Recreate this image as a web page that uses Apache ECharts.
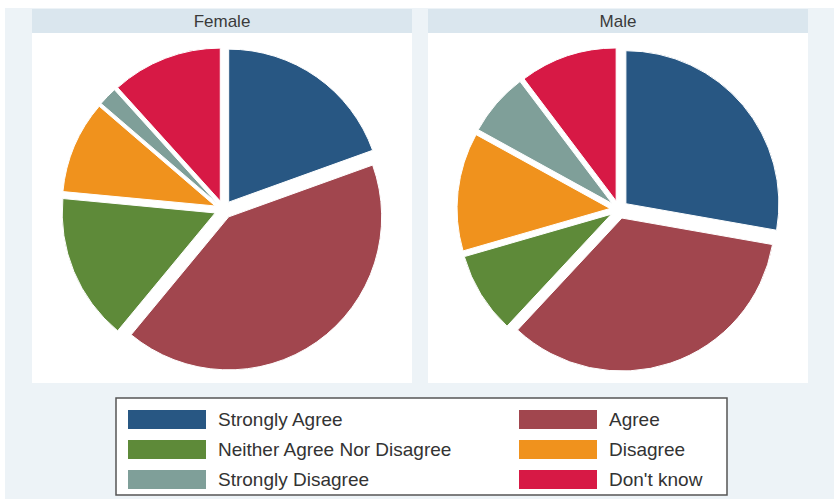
<!DOCTYPE html>
<html>
<head>
<meta charset="utf-8">
<script src="https://cdn.jsdelivr.net/npm/echarts@6/dist/echarts.min.js"></script>
<style>
html,body{margin:0;padding:0;background:#ffffff;}
#chart{width:834px;height:499px;}
</style>
</head>
<body>
<div id="chart"></div>
<script>
// ---- data ----
const categories = ['Strongly Agree', 'Agree', 'Neither Agree Nor Disagree', 'Disagree', 'Strongly Disagree', "Don't know"];
const femaleValues = [19.5, 41.5, 15.5, 9.8, 2.0, 11.7];
const maleValues = [27.8, 34.2, 8.6, 12.5, 6.7, 10.3];
const panelTitles = ['Female', 'Male'];
const legendLeftColumn = ['Strongly Agree', 'Neither Agree Nor Disagree', 'Strongly Disagree'];
const legendRightColumn = ['Agree', 'Disagree', "Don't know"];

// ---- styles ----
const palette = ['#285783', '#a1464e', '#5e8a39', '#f0921d', '#7f9f99', '#d71945'];
const FONT = 'Liberation Sans, Arial, sans-serif';

const chart = echarts.init(document.getElementById('chart'), null, { renderer: 'svg' });

function pieSeries(name, values, center) {
  return {
    type: 'pie',
    name: name,
    center: center,
    radius: 153,
    startAngle: 90,
    clockwise: true,
    selectedMode: 'multiple',
    selectedOffset: 9,
    silent: true,
    label: { show: false },
    labelLine: { show: false },
    emphasis: { disabled: true },
    itemStyle: { borderColor: '#ffffff', borderWidth: 1 },
    data: categories.map((c, i) => ({ name: c, value: values[i], selected: true }))
  };
}

const legendCommon = {
  orient: 'vertical',
  top: 408,
  height: 120,
  padding: 0,
  itemWidth: 80,
  itemHeight: 21,
  itemGap: 7,
  icon: 'rect',
  selectedMode: false,
  textStyle: { fontFamily: FONT, fontSize: 19, color: '#333333', lineHeight: 21, padding: [0, 0, 0, 6] }
};

const panelX = [32, 428];
const panelW = 380;

const option = {
  backgroundColor: '#ffffff',
  animation: false,
  color: palette,
  graphic: [
    { type: 'rect', z: -20, shape: { x: 5, y: 8, width: 829, height: 491 }, style: { fill: '#edf3f7' } },
    ...panelX.map(x => ({ type: 'rect', z: -19, shape: { x: x, y: 9, width: panelW, height: 24 }, style: { fill: '#dae6ee' } })),
    ...panelX.map(x => ({ type: 'rect', z: -19, shape: { x: x, y: 33, width: panelW, height: 350 }, style: { fill: '#ffffff' } })),
    ...panelTitles.map((t, i) => ({
      type: 'text', z: -18, x: panelX[i] + panelW / 2, y: 21,
      style: { text: t, fill: '#3a3a3a', font: '17px ' + FONT, textAlign: 'center', textVerticalAlign: 'middle' }
    })),
    { type: 'rect', z: -18, shape: { x: 116, y: 398, width: 611, height: 97 }, style: { fill: '#ffffff', stroke: '#555555', lineWidth: 1.5 } }
  ],
  legend: [
    Object.assign({}, legendCommon, { left: 126, data: legendLeftColumn }),
    Object.assign({}, legendCommon, { left: 517, data: legendRightColumn })
  ],
  series: [
    pieSeries(panelTitles[0], femaleValues, [223.5, 209.5]),
    pieSeries(panelTitles[1], maleValues, [619, 209.5])
  ]
};

chart.setOption(option);
</script>
</body>
</html>
